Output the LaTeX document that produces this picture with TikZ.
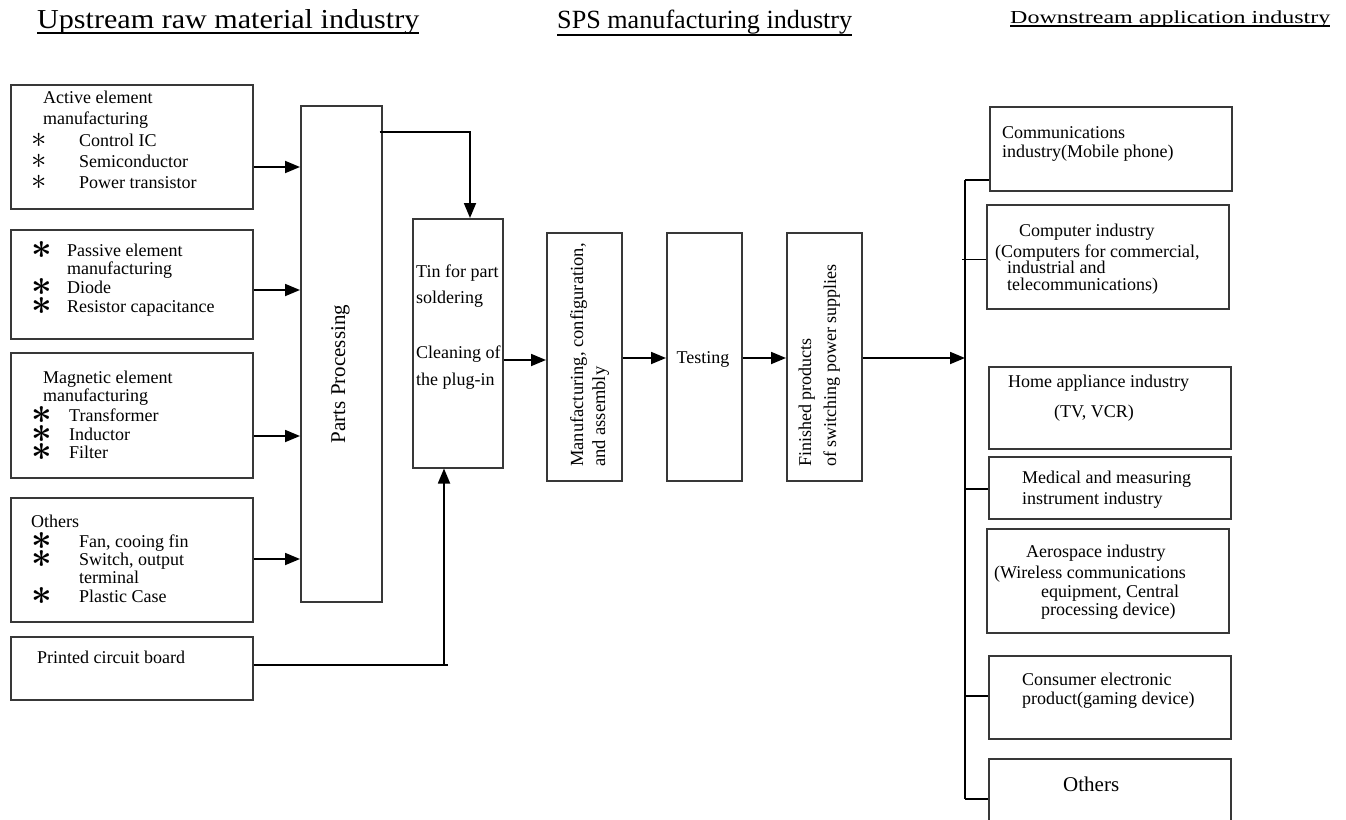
\RequirePackage{fix-cm}
\documentclass[tikz,border=0pt]{standalone}
\usepackage{fontspec}
\setmainfont{Liberation Serif}
\usepackage{graphicx}
\usetikzlibrary{arrows.meta,calc}

\tikzset{
  bx/.style={draw=black!78, line width=1.5pt, inner sep=0pt, anchor=north west},
  lbl/.style={anchor=base west, inner sep=0pt, font=\fontsize{18}{20}\selectfont},
  vlbl/.style={lbl, rotate=90},
  astthin/.style={anchor=center, inner sep=0pt, font=\fontsize{18}{20}\selectfont},
  astbold/.style={anchor=center, inner sep=0pt, font=\fontsize{18}{20}\selectfont\boldmath},
  arr/.style={draw=black, line width=1.8pt, -{Triangle[length=15pt,width=12pt]}},
  link/.style={draw=black, line width=1.8pt},
  hdr/.style={anchor=base west, inner sep=0pt},
  uline/.style={draw=black, line width=1.8pt},
}

% box from its top-left to its bottom-right corner
\newcommand\boxat[5]{\node[bx, minimum width={#4pt-#2pt}, minimum height={#5pt-#3pt}] (#1) at (#2,#3) {};}
% one line of text, left end of its baseline at the point
\newcommand\txtat[4]{\node[lbl] (#1) at (#2,#3) {#4};}
% list bullets, centred a little above the baseline of their line
\newcommand\astthinat[3]{\node[astthin] (#1) at (#2,#3-6) {\scalebox{1.7}{$\ast$}};}
\newcommand\astat[3]{\node[astbold] (#1) at (#2,#3-6) {\scalebox{2}{$\ast$}};}

\begin{document}
\begin{tikzpicture}[x=1pt,y=-1pt]
\useasboundingbox (0,0) rectangle (1346,819);
\fill[white] (0,0) rectangle (1346,819);

% ---------- column headers ----------
\node[hdr] (hup) at (37,28) {\resizebox{382pt}{19pt}{Upstream raw material industry}};
\draw[uline] ($(hup.base west)+(0,5)$) -- ($(hup.base east)+(0,5)$);
\node[hdr] (hsps) at (557,28) {\resizebox{295pt}{18.5pt}{SPS manufacturing industry}};
\draw[uline] ($(hsps.base west)+(0,7)$) -- ($(hsps.base east)+(0,7)$);
\node[hdr] (hdown) at (1010,23) {\resizebox{320pt}{12.7pt}{Downstream application industry}};
\draw[uline] ($(hdown.base west)+(0,3)$) -- ($(hdown.base east)+(0,3)$);

% ---------- upstream boxes ----------
\boxat{b1}{10}{84}{252}{208}
\boxat{b2}{10}{229}{252}{338}
\boxat{b3}{10}{352}{252}{477}
\boxat{b4}{10}{497}{252}{621}
\boxat{b5}{10}{636}{252}{699}

\txtat{b1l1}{43}{103}{Active element}
\txtat{b1l2}{43}{124}{manufacturing}
\astthinat{b1s1}{39}{146}\txtat{b1l3}{79}{146}{Control IC}
\astthinat{b1s2}{39}{167}\txtat{b1l4}{79}{167}{Semiconductor}
\astthinat{b1s3}{39}{188}\txtat{b1l5}{79}{188}{Power transistor}

\astat{b2s1}{42}{256}\txtat{b2l1}{67}{256}{Passive element}
\txtat{b2l2}{67}{274}{manufacturing}
\astat{b2s2}{42}{293}\txtat{b2l3}{67}{293}{Diode}
\astat{b2s3}{42}{312}\txtat{b2l4}{67}{312}{Resistor capacitance}

\txtat{b3l1}{43}{383}{Magnetic element}
\txtat{b3l2}{43}{401}{manufacturing}
\astat{b3s1}{42}{421}\txtat{b3l3}{69}{421}{Transformer}
\astat{b3s2}{42}{440}\txtat{b3l4}{69}{440}{Inductor}
\astat{b3s3}{42}{458}\txtat{b3l5}{69}{458}{Filter}

\txtat{b4l1}{31}{527}{Others}
\astat{b4s1}{42}{547}\txtat{b4l2}{79}{547}{Fan, cooing fin}
\astat{b4s2}{42}{565}\txtat{b4l3}{79}{565}{Switch, output}
\txtat{b4l4}{79}{583}{terminal}
\astat{b4s3}{42}{602}\txtat{b4l5}{79}{602}{Plastic Case}

\txtat{b5l1}{37}{663}{Printed circuit board}

% ---------- SPS manufacturing chain ----------
\boxat{pp}{300}{105}{381}{601}
\node[vlbl, anchor=base, font=\fontsize{21}{24}\selectfont] (pptxt) at (345,374) {Parts Processing};

\boxat{tin}{412}{218}{502}{467}
\txtat{tl1}{416}{277}{Tin for part}
\txtat{tl2}{416}{303}{soldering}
\txtat{tl3}{416}{358}{Cleaning of}
\txtat{tl4}{416}{385}{the plug-in}

\boxat{man}{546}{232}{621}{480}
\node[vlbl, font=\fontsize{18.5}{20}\selectfont] (ml1) at (583,467) {Manufacturing, configuration,};
\node[vlbl, font=\fontsize{18.5}{20}\selectfont] (ml2) at (605,467) {and assembly};

\boxat{test}{666}{232}{741}{480}
\node[lbl, anchor=base] (tsl) at (703,363) {Testing};

\boxat{fin}{786}{232}{861}{480}
\node[vlbl] (fl1) at (811,467) {Finished products};
\node[vlbl] (fl2) at (836,467) {of switching power supplies};

% ---------- downstream boxes ----------
\boxat{r1}{989}{106}{1231}{190}
\boxat{r2}{986}{204}{1228}{308}
\boxat{r3}{988}{366}{1230}{448}
\boxat{r4}{988}{456}{1230}{518}
\boxat{r5}{986}{528}{1228}{632}
\boxat{r6}{988}{655}{1230}{738}
\boxat{r7}{988}{758}{1230}{830}

\txtat{r1l1}{1002}{138}{Communications}
\txtat{r1l2}{1002}{157}{industry(Mobile phone)}
\txtat{r2l1}{1019}{236}{Computer industry}
\txtat{r2l2}{995}{257}{(Computers for commercial,}
\txtat{r2l3}{1007}{273}{industrial and}
\txtat{r2l4}{1007}{290}{telecommunications)}
\txtat{r3l1}{1008}{387}{Home appliance industry}
\txtat{r3l2}{1054}{417}{(TV, VCR)}
\txtat{r4l1}{1022}{483}{Medical and measuring}
\txtat{r4l2}{1022}{504}{instrument industry}
\txtat{r5l1}{1026}{557}{Aerospace industry}
\txtat{r5l2}{994}{578}{(Wireless communications}
\txtat{r5l3}{1041}{597}{equipment, Central}
\txtat{r5l4}{1041}{615}{processing device)}
\txtat{r6l1}{1022}{685}{Consumer electronic}
\txtat{r6l2}{1022}{704}{product(gaming device)}
\node[lbl, font=\fontsize{21}{24}\selectfont] (r7l1) at (1063,791) {Others};

% ---------- connectors ----------
\coordinate (ya) at (0,167);
\coordinate (yb) at (0,290);
\coordinate (yc) at (0,436);
\coordinate (yd) at (0,559);
\draw[arr] (b1.east |- ya) -- (pp.west |- ya);
\draw[arr] (b2.east |- yb) -- (pp.west |- yb);
\draw[arr] (b3.east |- yc) -- (pp.west |- yc);
\draw[arr] (b4.east |- yd) -- (pp.west |- yd);

\coordinate (k1) at (470,132);
\draw[arr] ([xshift=-3pt]pp.east |- k1) -- (k1) -- (k1 |- tin.north);

\coordinate (k2) at (444,665);
\coordinate (k2e) at (448,665);
\draw[link, line width=2.4pt] (b5.east |- k2) -- (k2e);
\draw[arr] (k2) -- (k2 |- tin.south);

\coordinate (yt) at (0,360);
\coordinate (ym) at (0,358);
\draw[arr] (tin.east |- yt) -- (man.west |- yt);
\draw[arr] (man.east |- ym) -- (test.west |- ym);
\draw[arr] (test.east |- ym) -- (fin.west |- ym);

\coordinate (bus) at (965,358);
\coordinate (bt) at (965,180);
\coordinate (bb) at (965,799);
\draw[arr] (fin.east |- bus) -- (bus);
\draw[link] (bt) -- (bb);
\draw[link] (bt) -- (r1.west |- bt);
\coordinate (c2) at (962,259);
\draw[draw=black, line width=1pt] (c2) -- (r2.west |- c2);
\coordinate (c4) at (965,489);
\draw[link] (c4) -- (r4.west |- c4);
\coordinate (c6) at (965,696);
\draw[link] (c6) -- (r6.west |- c6);
\draw[link] (bb) -- (r7.west |- bb);
\end{tikzpicture}
\end{document}
